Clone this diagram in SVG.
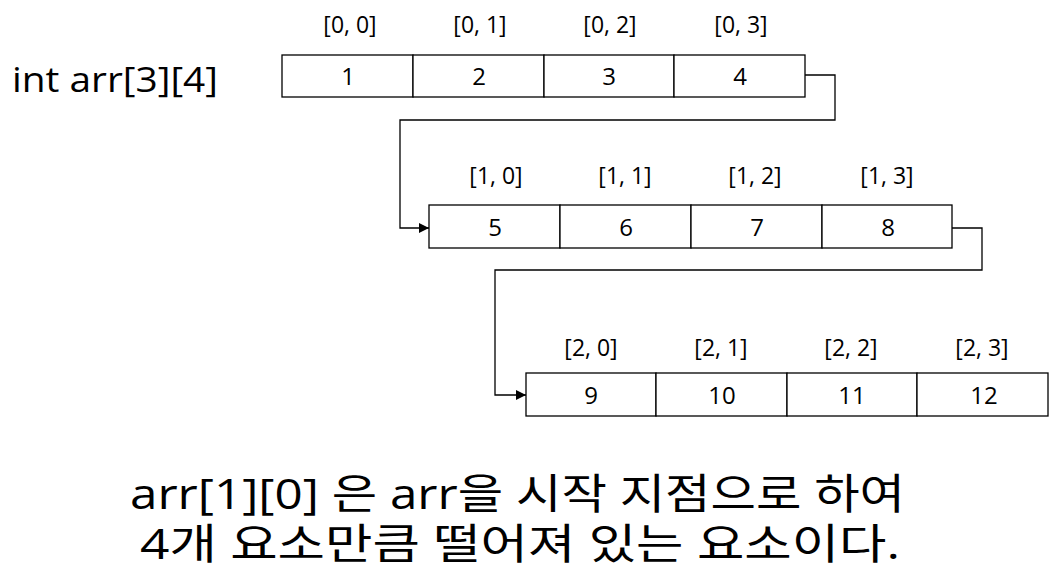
<svg xmlns="http://www.w3.org/2000/svg" width="1064" height="579" viewBox="0 0 1064 579">
<defs>
<style>
.cell{fill:#fff;stroke:#000;stroke-width:1.3}
.num{font-family:"Open Sans","Noto Sans CJK KR",sans-serif;font-size:24px;text-anchor:middle;fill:#000}
.idx{font-family:"Open Sans","Noto Sans CJK KR",sans-serif;font-size:23px;text-anchor:middle;fill:#000}
.big{font-family:"Open Sans","Noto Sans CJK KR",sans-serif;fill:#000}
.conn{fill:none;stroke:#000;stroke-width:1.3}
</style>
<marker id="arr" viewBox="0 0 10 10" refX="10" refY="5" markerWidth="10" markerHeight="10" markerUnits="userSpaceOnUse" orient="auto">
<path d="M0,0 L10,5 L0,10 Z" fill="#000"/>
</marker>
</defs>
<rect width="1064" height="579" fill="#fff"/>
<text id="title" class="big" x="12" y="92" font-size="35" textLength="206" lengthAdjust="spacingAndGlyphs">int arr[3][4]</text>
<g id="row0">
<rect class="cell" x="282" y="55" width="131" height="42"/>
<rect class="cell" x="413" y="55" width="131" height="42"/>
<rect class="cell" x="544" y="55" width="130" height="42"/>
<rect class="cell" x="674" y="55" width="131" height="42"/>
<text class="num" x="348" y="85">1</text>
<text class="num" x="479" y="85">2</text>
<text class="num" x="609" y="85">3</text>
<text class="num" x="740" y="85">4</text>
<text class="idx" x="350" y="33">[0, 0]</text>
<text class="idx" x="480" y="33">[0, 1]</text>
<text class="idx" x="610" y="33">[0, 2]</text>
<text class="idx" x="741" y="33">[0, 3]</text>
</g>
<g id="row1">
<rect class="cell" x="429" y="205" width="131" height="43"/>
<rect class="cell" x="560" y="205" width="131" height="43"/>
<rect class="cell" x="691" y="205" width="131" height="43"/>
<rect class="cell" x="822" y="205" width="130" height="43"/>
<text class="num" x="495" y="236">5</text>
<text class="num" x="626" y="236">6</text>
<text class="num" x="757" y="236">7</text>
<text class="num" x="888" y="236">8</text>
<text class="idx" x="496" y="184">[1, 0]</text>
<text class="idx" x="625" y="184">[1, 1]</text>
<text class="idx" x="755" y="184">[1, 2]</text>
<text class="idx" x="887" y="184">[1, 3]</text>
</g>
<g id="row2">
<rect class="cell" x="526" y="373" width="130" height="43"/>
<rect class="cell" x="656" y="373" width="131" height="43"/>
<rect class="cell" x="787" y="373" width="130" height="43"/>
<rect class="cell" x="917" y="373" width="131" height="43"/>
<text class="num" x="591" y="404">9</text>
<text class="num" x="722" y="404">10</text>
<text class="num" x="852" y="404">11</text>
<text class="num" x="984" y="404">12</text>
<text class="idx" x="591" y="356">[2, 0]</text>
<text class="idx" x="721" y="356">[2, 1]</text>
<text class="idx" x="851" y="356">[2, 2]</text>
<text class="idx" x="982" y="356">[2, 3]</text>
</g>
<g id="connectors">
<path class="conn" d="M805,75 H835 V120 H400 V228 H429" marker-end="url(#arr)"/>
<path class="conn" d="M952,228 H982 V270 H495 V395 H526" marker-end="url(#arr)"/>
</g>
<g id="caption">
<text class="big" x="130" y="509" font-size="42" textLength="775" lengthAdjust="spacingAndGlyphs">arr[1][0] 은 arr을 시작 지점으로 하여</text>
<text class="big" x="140" y="559" font-size="42" textLength="760" lengthAdjust="spacingAndGlyphs">4개 요소만큼 떨어져 있는 요소이다.</text>
</g>
</svg>
